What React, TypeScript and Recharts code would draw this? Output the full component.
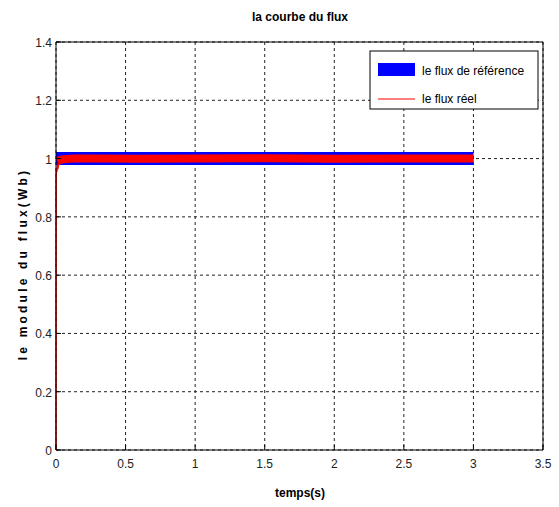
import React from 'react';
import { LineChart, Line, XAxis, YAxis, CartesianGrid } from 'recharts';

const xTicks = [0, 0.5, 1, 1.5, 2, 2.5, 3, 3.5];
const yTicks = [0, 0.2, 0.4, 0.6, 0.8, 1, 1.2, 1.4];
const refT = [0, 3];
const refV = [1, 1];
// start-up transient of the real flux (thin trace)
const startT = [0, 0.001, 0.003, 0.006, 0.01, 0.015, 0.02];
const startV = [0, 0.93, 0.965, 0.955, 0.975, 0.97, 0.985];
// steady real flux (thick oscillating band)
const realT = [0.01, 0.02, 0.035, 0.06, 0.12, 0.3, 0.6, 1.0, 1.5, 2.0, 2.5, 3.0];
const realV = [0.99, 0.993, 0.996, 0.998, 1.0, 1.0, 0.999, 1.0, 1.001, 0.999, 1.0, 1.0];

const refData = refT.map((t, i) => ({ t, v: refV[i] }));
const startData = startT.map((t, i) => ({ t, v: startV[i] }));
const realData = realT.map((t, i) => ({ t, v: realV[i] }));

const FONT = '"Liberation Sans", Arial, sans-serif';

const BottomTick = (props: any) => {
  const { x, y, payload } = props;
  return (
    <g>
      <line x1={x} y1={y} x2={x} y2={y - 5} stroke="#000" />
      <text x={x} y={y + 18} textAnchor="middle" fontSize={12} fontFamily={FONT} fill="#222">
        {String(payload.value)}
      </text>
    </g>
  );
};
const TopTick = (props: any) => {
  const { x, y } = props;
  return <line x1={x} y1={y} x2={x} y2={y + 5} stroke="#000" />;
};
const LeftTick = (props: any) => {
  const { x, y, payload } = props;
  return (
    <g>
      <line x1={x} y1={y} x2={x + 5} y2={y} stroke="#000" />
      <text x={x - 4} y={y + 5} textAnchor="end" fontSize={12} fontFamily={FONT} fill="#222">
        {String(payload.value)}
      </text>
    </g>
  );
};
const RightTick = (props: any) => {
  const { x, y } = props;
  return <line x1={x} y1={y} x2={x - 5} y2={y} stroke="#000" />;
};

export default function App() {
  return (
    <div style={{ position: 'absolute', left: 0, top: 0, background: '#fff' }}>
      <LineChart width={559} height={507} margin={{ top: 32, right: 6, left: 16, bottom: 27 }}>
        <CartesianGrid stroke="#222" strokeDasharray="3 3" />
        <XAxis dataKey="t" type="number" domain={[0, 3.5]} ticks={xTicks} height={30}
          tickSize={0} tickMargin={0} tick={<BottomTick />} stroke="#000" />
        <XAxis xAxisId="top" orientation="top" dataKey="t" type="number" domain={[0, 3.5]} ticks={xTicks} height={10}
          tickSize={0} tickMargin={0} tick={<TopTick />} stroke="#000" />
        <YAxis type="number" domain={[0, 1.4]} ticks={yTicks} width={40}
          tickSize={0} tickMargin={0} tick={<LeftTick />} stroke="#000" />
        <YAxis yAxisId="r" orientation="right" type="number" domain={[0, 1.4]} ticks={yTicks} width={10}
          tickSize={0} tickMargin={0} tick={<RightTick />} stroke="#000" />
        <Line data={refData} dataKey="v" stroke="#0000ff" strokeWidth={13}
          dot={false} isAnimationActive={false} strokeLinecap="butt" />
        <Line data={realData} dataKey="v" stroke="#ff0000" strokeWidth={8}
          dot={false} isAnimationActive={false} strokeLinecap="butt" />
        <Line data={startData} dataKey="v" stroke="#ff0000" strokeWidth={1.5}
          dot={false} isAnimationActive={false} />
        <g>
          <text x={300} y={21} textAnchor="middle" fontSize={12} fontWeight="bold" fontFamily={FONT} fill="#000">
            la courbe du flux
          </text>
          <text x={300} y={497} textAnchor="middle" fontSize={12} fontWeight="bold" fontFamily={FONT} fill="#000">
            temps(s)
          </text>
          <text x={0} y={0} transform="translate(27,264) rotate(-90)" textAnchor="middle" fontSize={12}
            fontWeight="bold" fontFamily={FONT} fill="#000" letterSpacing={3.2}>
            le module du flux(Wb)
          </text>
          <rect x={370} y={51} width={168} height={58} fill="#fff" stroke="#000" />
          <rect x={378} y={63} width={37} height={13} fill="#0000ff" />
          <text x={422} y={75} fontSize={12} fontFamily={FONT} fill="#000">le flux de référence</text>
          <line x1={378} y1={99} x2={415} y2={99} stroke="#ff0000" />
          <text x={422} y={103} fontSize={12} fontFamily={FONT} fill="#000">le flux réel</text>
        </g>
      </LineChart>
    </div>
  );
}
